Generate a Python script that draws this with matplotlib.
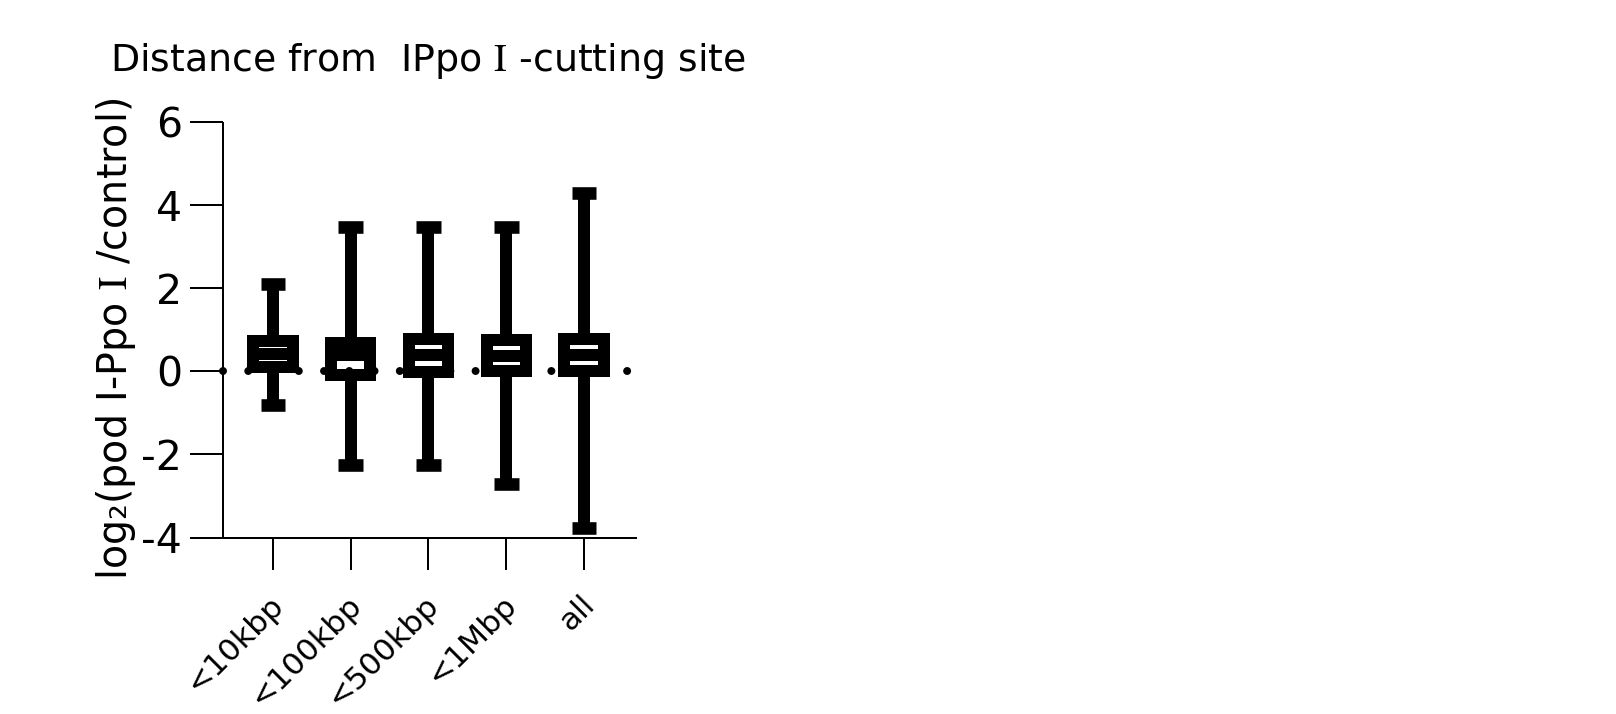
import matplotlib
matplotlib.use("Agg")
import matplotlib.pyplot as plt
from matplotlib.transforms import ScaledTranslation

# ---- data ----
categories = ["<10kbp", "<100kbp", "<500kbp", "<1Mbp", "all"]
whisker_low = [-0.80, -2.25, -2.25, -2.72, -3.77]
q1_values = [0.10, -0.10, -0.02, 0.00, 0.00]
median_values = [0.41, 0.395, 0.39, 0.38, 0.39]
q3_values = [0.73, 0.68, 0.77, 0.76, 0.77]
whisker_high = [2.11, 3.47, 3.47, 3.47, 4.28]
ytick_values = [-4, -2, 0, 2, 4, 6]
ytick_labels = ["-4", "-2", "0", "2", "4", "6"]
reference_level = 0.0

title_text = "Distance from  IPpo $\\mathrm{I}$ -cutting site"
ylabel_text = "log\u2082(pod I-Ppo $\\mathrm{I}$ /control)"

DPI = 100
W, H = 1616, 714
px = 72.0 / DPI  # points per pixel

plt.rcParams["font.family"] = ["DejaVu Sans"]
plt.rcParams["mathtext.fontset"] = "stix"

fig = plt.figure(figsize=(W / DPI, H / DPI), dpi=DPI)
fig.patch.set_facecolor("white")

left, right, top, bottom = 223, 636.7, 122, 537.5
ax = fig.add_axes([left / W, (H - bottom) / H, (right - left) / W, (bottom - top) / H])

positions = list(range(1, len(categories) + 1))
stats = []
for lab, lo, a, m, b, hi in zip(categories, whisker_low, q1_values,
                                median_values, q3_values, whisker_high):
    stats.append(dict(label=lab, whislo=lo, q1=a, med=m, q3=b, whishi=hi, fliers=[]))

lw = 12 * px
ax.bxp(stats, positions=positions, widths=0.505, capwidths=0.32,
       patch_artist=True, showfliers=False,
       boxprops=dict(facecolor="none", edgecolor="black", linewidth=lw,
                     joinstyle="miter"),
       whiskerprops=dict(color="black", linewidth=lw, solid_capstyle="butt"),
       capprops=dict(color="black", linewidth=12.6 * px, solid_capstyle="butt"),
       medianprops=dict(color="black", linewidth=lw, solid_capstyle="butt"),
       zorder=3)

# dotted reference line at 0
ax.axhline(reference_level, color="black", linewidth=8 * px,
           linestyle=(0, (0.001, 25.25 / 8)), dash_capstyle="round",
           zorder=1, clip_on=False)

ax.set_xlim(0.3569, 5.678)
ax.set_ylim(-4, 6)

for s in ["top", "right"]:
    ax.spines[s].set_visible(False)
for s in ["left", "bottom"]:
    ax.spines[s].set_linewidth(2 * px)
    ax.spines[s].set_capstyle("butt")

ax.set_yticks(ytick_values, ytick_labels)
ax.tick_params(axis="y", direction="out", length=33 * px, width=2 * px,
               pad=8 * px, labelsize=29.5)

ax.set_xticks(positions)
ax.set_xticklabels(categories, rotation=45, ha="right", va="center",
                   rotation_mode="anchor", fontsize=22.5)
ax.tick_params(axis="x", direction="out", length=31.5 * px, width=2 * px,
               pad=31 * px)
offset = ScaledTranslation(6 / DPI, 0, fig.dpi_scale_trans)
for t in ax.get_xticklabels():
    t.set_transform(t.get_transform() + offset)

fig.text(109.5 / W, 1 - 70.7 / H, title_text, fontsize=27.3,
         ha="left", va="baseline")
fig.text(115.6 / W, 1 - 339 / H, ylabel_text, fontsize=28.5, rotation=90,
         ha="center", va="center")

fig.savefig("out.png", dpi=DPI, facecolor="white")
